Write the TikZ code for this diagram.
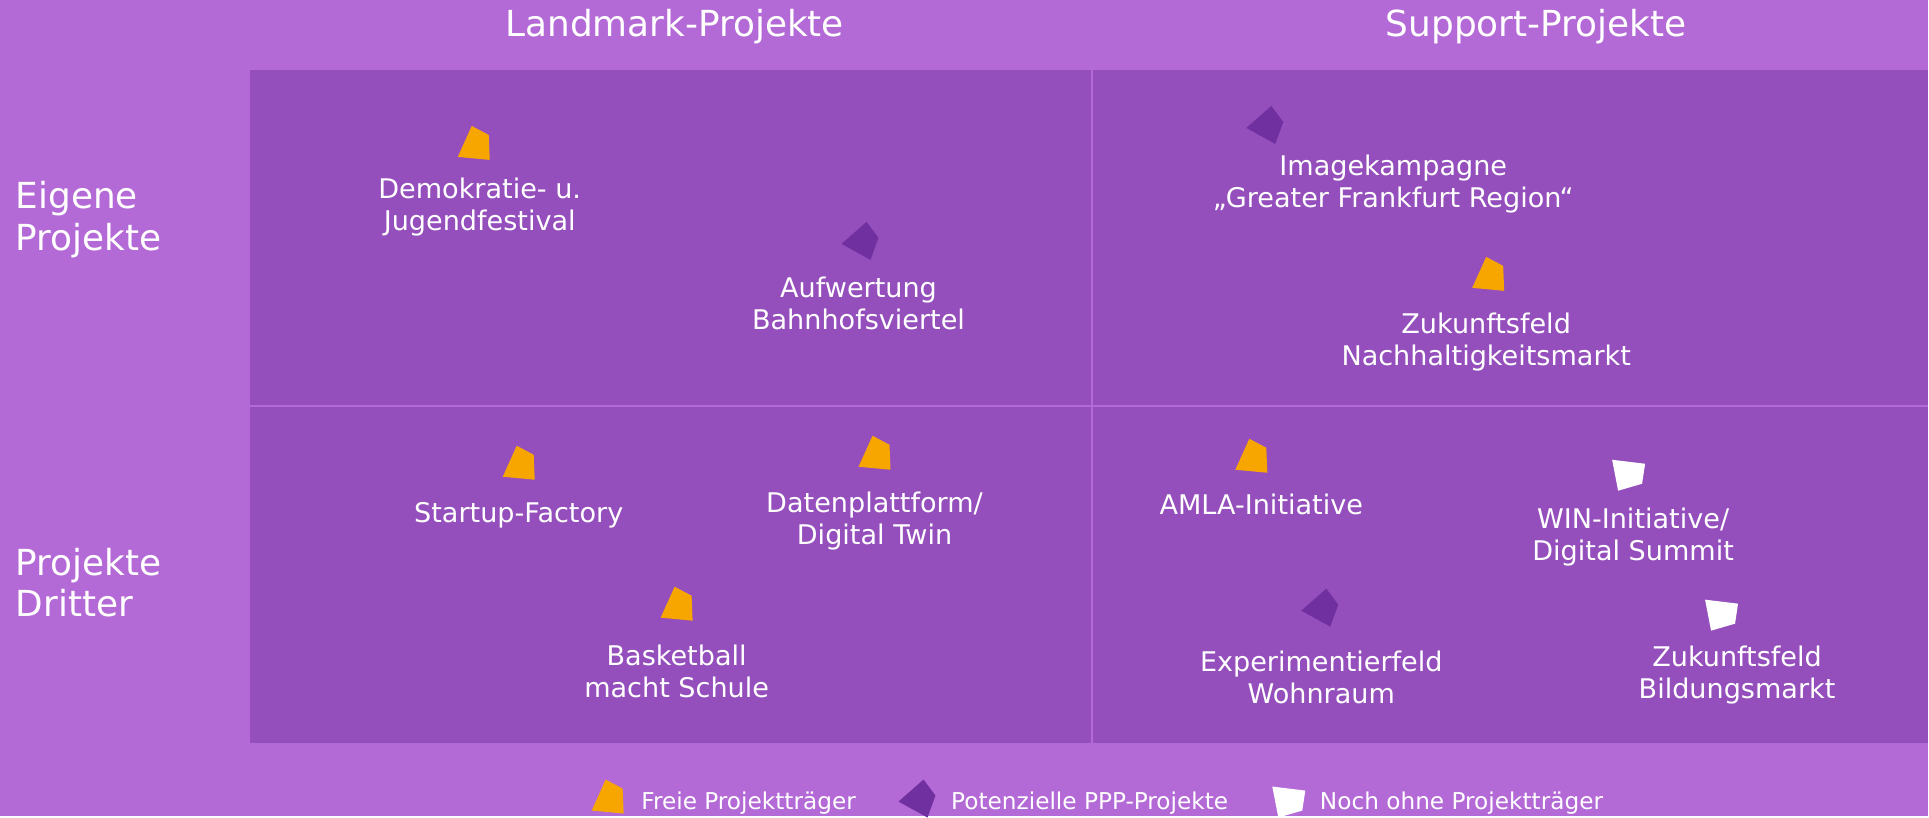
\documentclass[tikz,border=0pt]{standalone}
\usepackage{fontspec}
\setmainfont{DejaVu Sans}

\definecolor{bgpurple}{HTML}{B46AD6}
\definecolor{fieldpurple}{HTML}{954FBC}
\definecolor{freeorange}{HTML}{F7A600}
\definecolor{ppppurple}{HTML}{7030A0}

\tikzset{
  pics/freemark/.style={code={\fill[freeorange] (-2,-19) -- (15,-10) -- (16,15) -- (-16,12) -- cycle;}},
  pics/pppmark/.style={code={\fill[ppppurple] (6,-19) -- (18,-3) -- (10,19) -- (-19,3) -- cycle;}},
  pics/openmark/.style={code={\fill[white] (-17,-15) -- (16,-11) -- (13,9) -- (-11,16) -- cycle;}}
}

\begin{document}
\begin{tikzpicture}[x=0.01cm,y=-0.01cm]

            \tikzstyle{head}=[text=white,inner sep=0pt,font=\fontsize{10.2}{11.9}\selectfont]
            \tikzstyle{rowlabel}=[head,anchor=west,align=left]
            \tikzstyle{item}=[text=white,inner sep=0pt,align=center,font=\fontsize{7.7}{9.1}\selectfont]
            \tikzstyle{legend}=[text=white,inner sep=0pt,anchor=west,font=\fontsize{6.6}{8}\selectfont]
            \tikzstyle{divider}=[draw=bgpurple,line width=0.6pt]

            % background and the four fields
            \fill[bgpurple] (0,0) rectangle (1929,816);
            \fill[fieldpurple] (250,70) rectangle (1929,743);
            \coordinate (vtop) at (1093,70);
            \coordinate (vbot) at (1093,743);
            \coordinate (hleft) at (250,406);
            \coordinate (hright) at (1929,406);
            \draw[divider] (vtop) -- (vbot);
            \draw[divider] (hleft) -- (hright);

            % column and row heads
            \node[head] (landmark) at (675,27)  {Landmark-Projekte};
            \node[head] (support)  at (1537,27) {Support-Projekte};
            \node[rowlabel] (eigene)  at (15,219.5) {Eigene\\Projekte};
            \node[rowlabel] (dritte)  at (15,583)   {Projekte\\Dritter};

            % projects
            \pic at (474,145) {freemark};
            \node[item] (demokratie) at (480,207) {Demokratie- u.\\Jugendfestival};
            \pic at (861,241) {pppmark};
            \node[item] (bahnhof) at (859,304) {Aufwertung\\Bahnhofsviertel};
            \pic at (1266,125) {pppmark};
            \node[item] (image) at (1394,184) {Imagekampagne\\„Greater Frankfurt Region“};
            \pic at (1489,276) {freemark};
            \node[item] (nachhaltig) at (1487,342) {Zukunftsfeld\\Nachhaltigkeitsmarkt};

            \pic at (519,465) {freemark};
            \node[item] (startup) at (519,516) {Startup-Factory};
            \pic at (875,455) {freemark};
            \node[item] (daten) at (875,521.5) {Datenplattform/\\Digital Twin};
            \pic at (677,606) {freemark};
            \node[item] (basketball) at (677,672) {Basketball\\macht Schule};
            \pic at (1252,458) {freemark};
            \node[item] (amla) at (1262,505) {AMLA-Initiative};
            \pic at (1630,475) {openmark};
            \node[item] (win) at (1634,537) {WIN-Initiative/\\Digital Summit};
            \pic at (1321,608) {pppmark};
            \node[item] (wohnraum) at (1322,678) {Experimentierfeld\\Wohnraum};
            \pic at (1723,615) {openmark};
            \node[item] (bildung) at (1738,675) {Zukunftsfeld\\Bildungsmarkt};

            % legend
            \pic at (608,799) {freemark};
            \node[legend] (lfree) at (641,804) {Freie Projektträger};
            \pic at (918,799) {pppmark};
            \node[legend] (lppp) at (951,804) {Potenzielle PPP-Projekte};
            \pic at (1290,802) {openmark};
            \node[legend] (lopen) at (1320,804) {Noch ohne Projektträger};
        \end{tikzpicture}
\end{document}
